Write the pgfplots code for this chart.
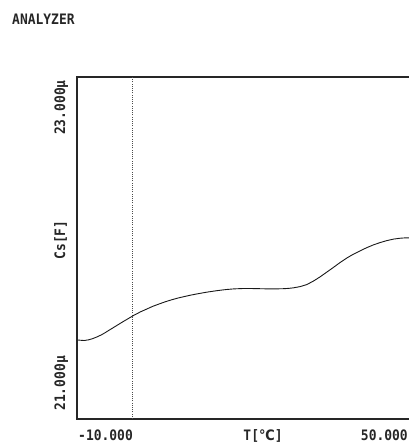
\documentclass[border=0pt]{standalone}
\usepackage{fontspec}
\setmonofont[FakeStretch=0.9]{DejaVu Sans Mono}
\newfontfamily\symfont[FakeStretch=0.9]{DejaVu Sans}
\usepackage{pgfplots}
\pgfplotsset{compat=1.18}
\begin{document}
\begin{tikzpicture}[x=1pt,y=1pt]
\path[use as bounding box] (0,0) rectangle (409,444);
\begin{axis}[
  at={(77pt,25pt)}, anchor=south west,
  width=332pt, height=342pt, scale only axis,
  xmin=-10, xmax=50, ymin=21, ymax=23,
  hide axis, clip=false,
]
\draw[line width=1.4pt, black!85] (rel axis cs:1,1) -- (rel axis cs:0,1) -- (rel axis cs:0,0) -- (rel axis cs:1,0);
\addplot[black!70, line width=0.8pt, dash pattern=on 1pt off 1.2pt] coordinates {(0,21) (0,23)};
\addplot[black!90, line width=0.9pt] coordinates {
(-9.82,21.462) (-9.58,21.461) (-8.68,21.459) (-7.9,21.463) (-7.16,21.470) (-6.4,21.480) (-5.6,21.492) (-4.9,21.505) (-4.16,21.520)
(-3.1,21.541) (-2,21.563) (-0.8,21.586) (0.36,21.608) (1.5,21.627) (2.6,21.643) (3.7,21.659) (4.87,21.673) (6.0,21.686) (7.1,21.697) (8.2,21.707) (9.39,21.716)
(10.5,21.724) (11.6,21.731) (12.8,21.738) (13.91,21.744) (15.4,21.751) (16.93,21.757) (18.4,21.761) (19.95,21.763) (21.5,21.763) (23,21.762)
(24.5,21.761) (26.0,21.761) (27.3,21.762) (28.3,21.764) (29.09,21.767) (30.3,21.774) (31.51,21.786) (32.7,21.806) (33.92,21.831)
(35.1,21.858) (36.32,21.886) (37.5,21.914) (38.74,21.941) (39.9,21.963) (41.14,21.983) (42.3,22.001) (43.55,22.018) (44.8,22.032) (45.97,22.043)
(47.2,22.052) (48.37,22.057) (49.2,22.059) (50.0,22.059)
};
\end{axis}
\begin{scope}[font=\ttfamily\bfseries\fontsize{14.4}{16}\selectfont, text=black!85, inner sep=0pt]
\node[anchor=base west] at (12,419) {ANALYZER};
\node[anchor=base west] at (78,3) {-10.000};
\node[anchor=base] at (263,3) {T[{\symfont\bfseries ℃}]};
\node[anchor=base east] at (408,3) {50.000};
\node[rotate=90, anchor=base east] at (65,364) {23.000µ};
\node[rotate=90, anchor=base west] at (65,33) {21.000µ};
\node[rotate=90, anchor=base] at (65,204) {Cs[F]};
\end{scope}
\end{tikzpicture}
\end{document}
